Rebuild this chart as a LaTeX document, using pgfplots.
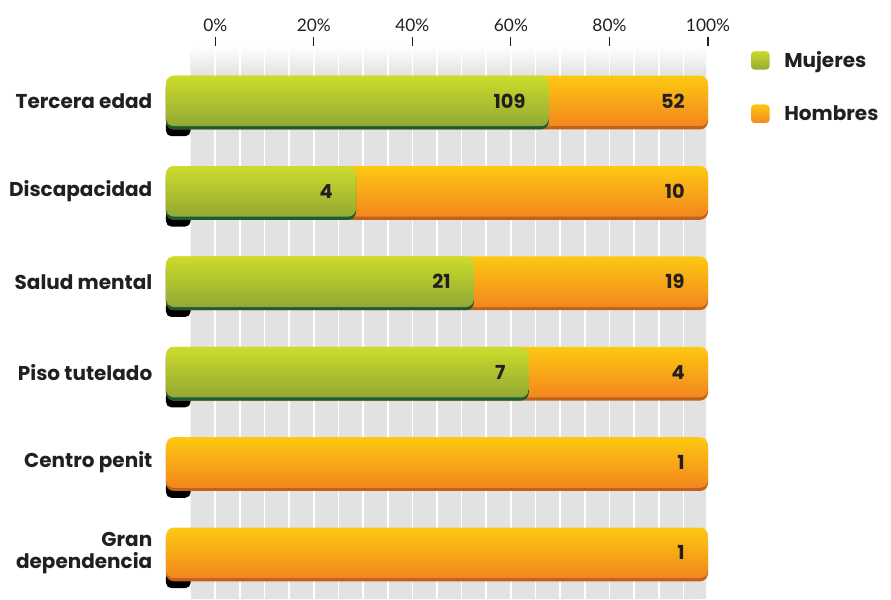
\documentclass[border=0pt]{standalone}
\usepackage{fontspec}
\setmainfont{Lato}
\newfontfamily\labfont{Poppins}
\usepackage{pgfplots}
\pgfplotsset{compat=1.18}
\usepackage{pgfplotstable}
\definecolor{mjtop}{HTML}{CDDC2B}
\definecolor{mjbot}{HTML}{92A834}
\definecolor{mjdark}{HTML}{1C5C32}
\definecolor{hbtop}{HTML}{FDC911}
\definecolor{hbbot}{HTML}{F3861F}
\definecolor{hbdark}{HTML}{C0621A}
\definecolor{panel}{HTML}{E2E2E2}
\definecolor{txt}{HTML}{231F20}

% idx: 5 = top row; m = Mujeres, h = Hombres
\pgfplotstableread{
idx m h
5 109 52
4 4 10
3 21 19
2 7 4
1 0 1
0 0 1
}\alldata
\pgfplotstableread{
idx m h
5 109 52
4 4 10
3 21 19
2 7 4
}\mujdata

\begin{document}
\begin{tikzpicture}
% grey panel behind the plot area (axis: 110 units over 406.5pt)
\fill[panel, rounded corners=6pt] (18.48pt,0pt) rectangle (405.0pt,414.9pt);
\fill[panel] (18.48pt,0pt) rectangle (405.0pt,20pt);
\shade[top color=white, bottom color=panel, rounded corners=6pt] (18.48pt,393pt) rectangle (405.0pt,414.9pt);
\begin{axis}[
  at={(0,0)}, anchor=south west,
  scale only axis, width=406.5pt, height=414.9pt,
  xmin=0, xmax=110, ymin=-0.51, ymax=5.61,
  axis line style={draw=none},
  xtick={10,30,...,110},
  xticklabels={0\%,20\%,40\%,60\%,80\%,100\%},
  xtick pos=upper, xticklabel pos=upper,
  tick align=outside,
  major tick length=6.75pt,
  xtick style={txt, line width=0.8pt},
  minor xtick={10,15,...,105},
  minor tick length=0pt,
  xminorgrids=true,
  minor grid style={white, line width=1.2pt},
  ytick={0,...,5},
  yticklabels={{Gran\\dependencia},Centro penit,Piso tutelado,Salud mental,Discapacidad,Tercera edad},
  ytick style={draw=none},
  yticklabel style={font=\labfont\bfseries\fontsize{15}{17}\selectfont, align=right, text=txt},
  xticklabel style={font=\fontsize{13}{14}\selectfont, text=txt},
  /pgf/number format/assume math mode=true,
  xbar, bar width=0.56,
  legend cell align=left,
  legend style={at={(1,1)}, anchor=north west, xshift=28pt, yshift=0pt,
    draw=none, fill=none, row sep=23pt,
    /tikz/every odd column/.append style={column sep=8pt},
    font=\labfont\bfseries\fontsize{15}{17}\selectfont, text=txt},
]
\addlegendimage{legend image code/.code={\draw[white, line width=1pt, rounded corners=3pt, top color=mjtop, bottom color=mjbot] (0pt,-7.5pt) rectangle (15pt,7.5pt);}}
\addlegendentry{Mujeres}
\addlegendimage{legend image code/.code={\draw[white, line width=1pt, rounded corners=3pt, top color=hbtop, bottom color=hbbot] (0pt,-7.5pt) rectangle (15pt,7.5pt);}}
\addlegendentry{Hombres}

% black curl under the left end
\addplot[forget plot, fill=black, draw=none, bar width=0.18, bar shift=-0.3, rounded corners=4pt]
  table[x expr=5, y=idx] \alldata;

% Hombres (full bar = 100 %): dark bottom edge, then one shaded bar per row
\addplot[forget plot, fill=hbdark, draw=none, rounded corners=6pt, bar shift=-0.035]
  table[x expr=110, y=idx] \alldata;
\pgfplotsinvokeforeach{0,...,5}{
\addplot[forget plot, top color=hbtop, bottom color=hbbot, draw=none, rounded corners=6pt, bar shift=0,
  restrict y to domain=#1:#1,
  nodes near coords, point meta=explicit symbolic,
  every node near coord/.append style={anchor=east, xshift=-14pt, text=txt,
    font=\labfont\bfseries\fontsize{14.5}{16}\selectfont}]
  table[x expr=110, y=idx, meta=h] \alldata;
}

% Mujeres share
\addplot[forget plot, fill=mjdark, draw=none, rounded corners=6pt, bar shift=-0.035]
  table[x expr=\thisrow{m}/(\thisrow{m}+\thisrow{h})*100+10, y=idx] \mujdata;
\pgfplotsinvokeforeach{2,...,5}{
\addplot[forget plot, top color=mjtop, bottom color=mjbot, draw=none, rounded corners=6pt, bar shift=0,
  restrict y to domain=#1:#1,
  nodes near coords, point meta=explicit symbolic,
  every node near coord/.append style={anchor=east, xshift=-14pt, text=txt,
    font=\labfont\bfseries\fontsize{14.5}{16}\selectfont}]
  table[x expr=\thisrow{m}/(\thisrow{m}+\thisrow{h})*100+10, y=idx, meta=m] \mujdata;
}
\end{axis}
\path[use as bounding box] (-124.5pt,0pt) rectangle (543.75pt,449.25pt);
\end{tikzpicture}
\end{document}
